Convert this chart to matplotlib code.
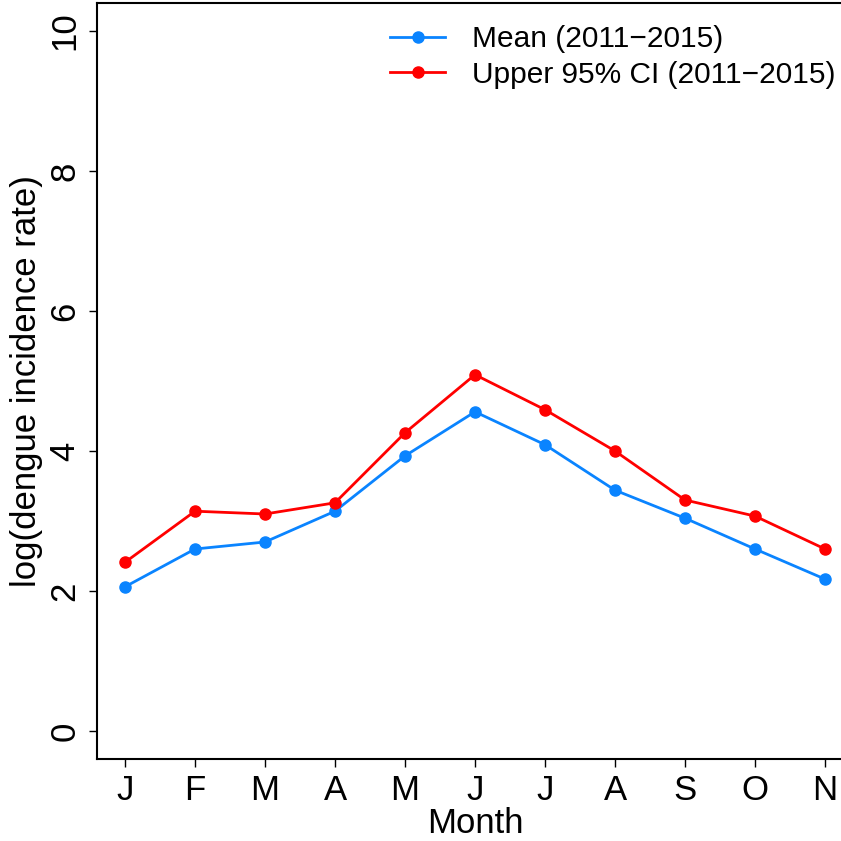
import matplotlib
matplotlib.use('Agg')
import matplotlib.pyplot as plt

plt.rcParams['font.family'] = ['Liberation Sans', 'DejaVu Sans']

months = ['J', 'F', 'M', 'A', 'M', 'J', 'J', 'A', 'S', 'O', 'N']
mean_vals = [2.06, 2.60, 2.70, 3.14, 3.93, 4.56, 4.09, 3.44, 3.04, 2.60, 2.17]
upper_vals = [2.41, 3.14, 3.10, 3.26, 4.26, 5.09, 4.59, 4.00, 3.30, 3.07, 2.60]

fig = plt.figure(figsize=(8.41, 8.41), dpi=100)
ax = fig.add_axes([97 / 841, 82 / 841, 756 / 841, 756 / 841])

x = list(range(len(months)))
ax.plot(x, mean_vals, color='#0a84ff', lw=2, marker='o', ms=8,
        label='Mean (2011\u22122015)')
ax.plot(x, upper_vals, color='#ff0000', lw=2, marker='o', ms=8,
        label='Upper 95% CI (2011\u22122015)')

ax.set_xlim(-0.4, 10.4)
ax.set_ylim(-0.4, 10.4)
ax.set_xticks(x)
ax.set_xticklabels(months)
ax.set_yticks([0, 2, 4, 6, 8, 10])
ax.tick_params(direction='out', length=6, width=1, labelsize=25, pad=5)
for lbl in ax.get_yticklabels():
    lbl.set_rotation(90)
    lbl.set_va('center')
for s in ax.spines.values():
    s.set_linewidth(1.5)

ax.set_xlabel('Month', fontsize=25, labelpad=0)
ax.set_ylabel('log(dengue incidence rate)', fontsize=25, labelpad=4)

ax.legend(loc='upper left', bbox_to_anchor=(390 / 841, 1 - 25 / 841),
          bbox_transform=fig.transFigure, frameon=False, fontsize=21.5,
          handlelength=1.85, handletextpad=0.88, labelspacing=0.26,
          borderpad=0, borderaxespad=0)

fig.savefig('out.png', dpi=100)
